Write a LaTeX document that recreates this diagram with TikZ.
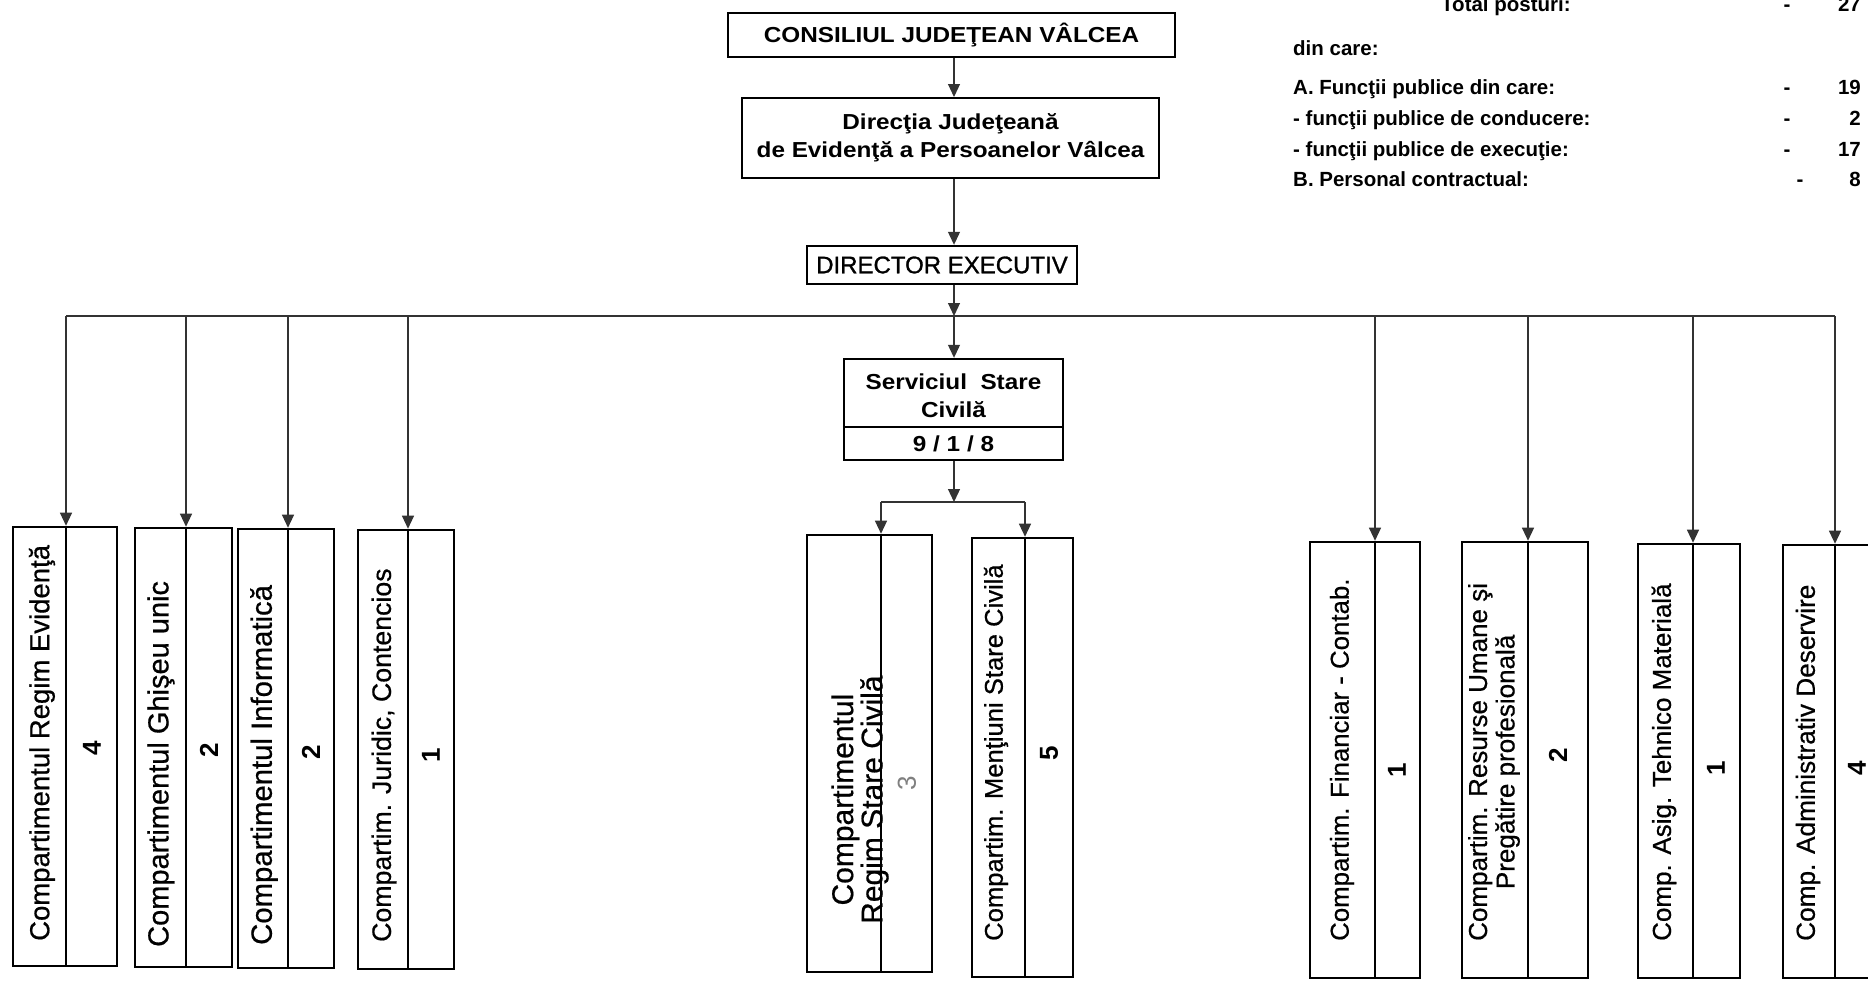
\documentclass[tikz,border=0pt]{standalone}
\usepackage{fontspec}
\setmainfont{Liberation Sans}
\newfontfamily\widefont[FakeStretch=1.12]{Liberation Sans}
\newfontfamily\medfont[FakeBold=1.2]{Liberation Sans}
\newfontfamily\vfont[FakeBold=0.6]{Liberation Sans}
\usetikzlibrary{arrows.meta}

\newcommand\mkbox[6]{%
  \node[vbox, minimum width={(#3-#2)*1pt}, minimum height={(#5-#4)*1pt}] (#1) at ({(#2+#3)/2},{(#4+#5)/2}) {};
  \draw[divline] (#1.north -| #6,0) -- (#1.south -| #6,0);
}

\begin{document}
\begin{tikzpicture}[x=1pt,y=-1pt,
  conn/.style={line width=1.2pt, draw=black!80},
  arr/.style={conn, -{Triangle[length=13pt,width=12pt]}},
  tbox/.style={draw, line width=2.4pt, inner sep=0pt, align=center},
  vbox/.style={draw, line width=2.6pt, inner sep=0pt},
  divline/.style={line width=2.6pt},
  vtxt/.style={rotate=90, anchor=west, inner sep=0pt, align=center, font=\vfont\fontsize{#1}{27.5}\selectfont},
  vtxt/.default=27.5,
  num/.style={rotate=90, inner sep=0pt, font=\fontsize{26}{30}\selectfont\bfseries},
  stat/.style={inner sep=0pt, font=\fontsize{20.5}{24}\selectfont\bfseries},
  boxfont/.style={font=\widefont\fontsize{21.7}{28}\selectfont\bfseries}
]
\fill[white] (0,0) rectangle (1868,980);
\useasboundingbox (0,0) rectangle (1868,980);

% ---------- top column ----------
\coordinate (colx) at (954,0);
\node[tbox, boxfont, minimum width=447pt, minimum height=44pt] (cj) at (951.5,35) {CONSILIUL JUDEŢEAN VÂLCEA};
\node[tbox, boxfont, line width=2pt, minimum width=417pt, minimum height=80pt] (dj) at (950.5,138) {Direcţia Judeţeană\\de Evidenţă a Persoanelor Vâlcea};
\node[tbox, minimum width=270pt, minimum height=38pt, font=\medfont\fontsize{24}{28}\selectfont] (de) at (942,265) {DIRECTOR EXECUTIV};

\draw[arr] (cj.south -| colx) -- (dj.north -| colx);
\draw[arr] (dj.south -| colx) -- (de.north -| colx);
\coordinate (busc) at (954,316);
\draw[arr] (de.south -| colx) -- (busc);
\coordinate (busL) at (66,316);
\coordinate (busR) at (1835,316);
\draw[conn] (busL) -- (busR);

% ---------- Serviciul Stare Civila ----------
\node[tbox, minimum width=219pt, minimum height=101pt] (ss) at (953.5,409.5) {};
\draw[divline] (ss.west |- 0,427) -- (ss.east |- 0,427);
\node[boxfont, align=center, inner sep=0pt] (sst) at (953.5,396) {Serviciul\ \ Stare\\Civilă};
\node[boxfont, inner sep=0pt] (ssn) at (953.5,444) {9 / 1 / 8};
\draw[arr] (busc) -- (ss.north -| colx);

% ---------- compartment boxes ----------
\mkbox{b1}{13}{117}{527}{966}{66}
\mkbox{b2}{135}{232}{528}{967}{186}
\mkbox{b3}{238}{334}{529}{968}{288}
\mkbox{b4}{358}{454}{530}{969}{408}
\mkbox{b5}{807}{932}{535}{972}{881}
\mkbox{b6}{972}{1073}{538}{977}{1025}
\mkbox{b7}{1310}{1420}{542}{978}{1375}
\mkbox{b8}{1462}{1588}{542}{978}{1528}
\mkbox{b9}{1638}{1740}{544}{978}{1693}
\mkbox{b10}{1783}{1895}{545}{978}{1835}

% drops from the bus
\foreach \n/\x in {1/66,2/186,3/288,4/408,7/1375,8/1528,9/1693,10/1835}{
  \coordinate (t\n) at (\x,316);
  \draw[arr] (t\n) -- (b\n.north -| t\n);
}

% branch under Serviciul
\coordinate (brc) at (954,502);
\draw[arr] (ss.south -| colx) -- (brc);
\coordinate (brL) at (881,502);
\coordinate (brR) at (1025,502);
\draw[conn] (brL) -- (brR);
\draw[arr] (brL) -- (b5.north -| brL);
\draw[arr] (brR) -- (b6.north -| brR);

% ---------- box texts ----------
\node[vtxt=27.5] (x1) at (42,941) {Compartimentul Regim Evidenţă};
\node[num] (n1) at (92,748) {4};
\node[vtxt=29] (x2) at (161,947) {Compartimentul Ghişeu unic};
\node[num] (n2) at (209,750) {2};
\node[vtxt=29.3] (x3) at (264,945) {Compartimentul Informatică};
\node[num] (n3) at (311,752) {2};
\node[vtxt=26.7] (x4) at (384,942) {Compartim. Juridic, Contencios};
\node[num] (n4) at (431,755) {1};
\node[vtxt=30] (x5) at (860,924) {Compartimentul\\Regim Stare Civilă};
\node[num, text=black!50, font=\fontsize{26}{30}\selectfont] (n5) at (907,783) {3};
\node[vtxt=25.6] (x6) at (996,941) {Compartim. Menţiuni Stare Civilă};
\node[num] (n6) at (1049,753) {5};
\node[vtxt=25.8] (x7) at (1342,941) {Compartim. Financiar - Contab.};
\node[num] (n7) at (1397,770) {1};
\node[vtxt=26] (x8) at (1494,941) {Compartim. Resurse Umane şi\\Pregătire profesională};
\node[num] (n8) at (1558,755) {2};
\node[vtxt=26] (x9) at (1664,941) {Comp. Asig. Tehnico Materială};
\node[num] (n9) at (1716,768) {1};
\node[vtxt=26.2] (x10) at (1808,941) {Comp. Administrativ Deservire};
\node[num] (n10) at (1857,768) {4};

% ---------- statistics ----------
\node[stat, anchor=base west] (st0) at (1441,11) {Total posturi:};
\node[stat, anchor=base] (sd0) at (1787,11) {-};
\node[stat, anchor=base east] (sn0) at (1861,11) {27};
\node[stat, anchor=base west] (st1) at (1293,55) {din care:};
\node[stat, anchor=base west] (st2) at (1293,94) {A. Funcţii publice din care:};
\node[stat, anchor=base] (sd2) at (1787,94) {-};
\node[stat, anchor=base east] (sn2) at (1861,94) {19};
\node[stat, anchor=base west] (st3) at (1293,125) {- funcţii publice de conducere:};
\node[stat, anchor=base] (sd3) at (1787,125) {-};
\node[stat, anchor=base east] (sn3) at (1861,125) {2};
\node[stat, anchor=base west] (st4) at (1293,156) {- funcţii publice de execuţie:};
\node[stat, anchor=base] (sd4) at (1787,156) {-};
\node[stat, anchor=base east] (sn4) at (1861,156) {17};
\node[stat, anchor=base west] (st5) at (1293,186) {B. Personal contractual:};
\node[stat, anchor=base] (sd5) at (1800,186) {-};
\node[stat, anchor=base east] (sn5) at (1861,186) {8};
\end{tikzpicture}
\end{document}
